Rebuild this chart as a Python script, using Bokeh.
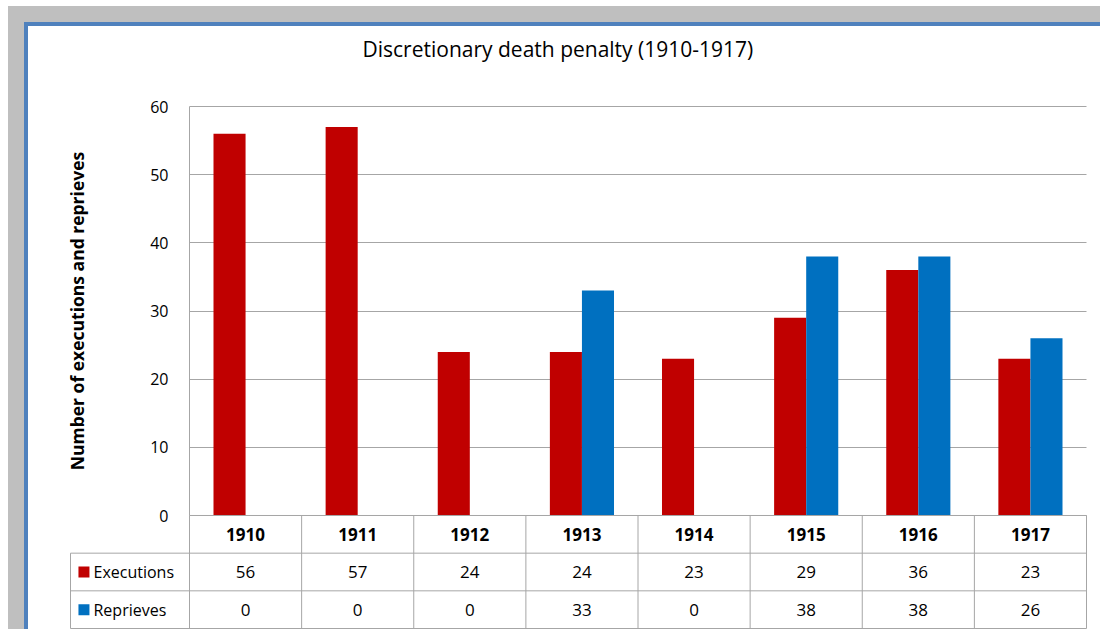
from bokeh.plotting import figure
from bokeh.models import ColumnDataSource, Range1d, FixedTicker, Grid
from bokeh.layouts import column
from bokeh.embed import file_html
from bokeh.resources import INLINE
from bokeh.core.properties import value

# ---- data ----
years = ["1910", "1911", "1912", "1913", "1914", "1915", "1916", "1917"]
executions = [56, 57, 24, 24, 23, 29, 36, 23]
reprieves = [0, 0, 0, 33, 0, 38, 38, 26]
series_names = ["Executions", "Reprieves"]
series_colors = ["#C00000", "#0070C0"]
y_ticks = [0, 10, 20, 30, 40, 50, 60]
title_text = "Discretionary death penalty (1910-1917)"
y_label = "Number of executions and reprieves"

FONT = "Open Sans"
LINE = "#A6A6A6"

n = len(years)
bw = 0.286                      # bar width, in category units
L = 119 / 112.125               # width of the table's label column, in category units
ex = 1 / 112.125                # one pixel of padding, in category units
y_max = y_ticks[-1]
px_per_unit = 409 / y_max       # vertical scale of the chart
top_px, below_px = 38, 114      # frame space above the top tick / below zero
frame_px = 561
row_px = 37.667

xc = [i + 0.5 for i in range(n)]
src = ColumnDataSource(dict(
    year=years, xc=xc,
    x_ex=[x - bw / 2 for x in xc], x_re=[x + bw / 2 for x in xc],
    executions=executions, reprieves=reprieves))

p = figure(x_range=Range1d(-L - ex, n + ex),
           y_range=Range1d(-below_px / px_per_unit, y_max + top_px / px_per_unit),
           width=1072, height=603, output_backend="svg", toolbar_location=None,
           min_border_left=41, min_border_right=13, min_border_top=42,
           min_border_bottom=0, x_axis_location=None, title=title_text)
t_start = -1 / row_px
p.extra_y_ranges = {"table": Range1d(t_start, t_start + frame_px / row_px)}

# bars
p.vbar(x="x_ex", top="executions", width=bw, source=src,
       fill_color=series_colors[0], line_color=None)
p.vbar(x="x_re", top="reprieves", width=bw, source=src,
       fill_color=series_colors[1], line_color=None)

# title
p.title.text_font = FONT
p.title.text_font_size = "21px"
p.title.text_font_style = "normal"
p.title.text_color = "#000000"
p.title.align = "left"
p.title.offset = 293
p.title.standoff = 12

# grid
p.xgrid.visible = False
p.outline_line_color = None
if "cross_bounds" in Grid.properties():
    p.ygrid.ticker = FixedTicker(ticks=y_ticks)
    p.ygrid.cross_bounds = (0, n)
    p.ygrid.grid_line_color = LINE
    p.ygrid.grid_line_width = 1
else:
    p.ygrid.visible = False
    p.segment(x0=[0] * len(y_ticks), y0=y_ticks, x1=[n] * len(y_ticks), y1=y_ticks,
              line_color=LINE, line_width=1, level="underlay")

# y axis at the left edge of the first category
ya = p.yaxis[0]
ya.fixed_location = 0
ya.bounds = (0, y_max)
ya.ticker = FixedTicker(ticks=y_ticks)
ya.axis_line_color = LINE
ya.major_tick_line_color = None
ya.minor_tick_line_color = None
ya.major_tick_out = 0
ya.major_tick_in = 0
ya.major_label_standoff = 21
ya.major_label_text_font = FONT
ya.major_label_text_font_size = "16px"
ya.major_label_text_color = "#000000"
ya.axis_label = y_label
ya.axis_label_text_font = FONT
ya.axis_label_text_font_size = "17.5px"
ya.axis_label_text_font_style = "bold"
ya.axis_label_text_color = "#000000"
ya.axis_label_standoff = 58

# ---- data table under the chart ----
p.segment(x0=[0, -L, -L, -L], y0=[3, 2, 1, 0], x1=[n] * 4, y1=[3, 2, 1, 0],
          line_color=LINE, line_width=1, y_range_name="table")
p.segment(x0=list(range(n + 1)) + [-L], y0=[0] * (n + 1) + [0],
          x1=list(range(n + 1)) + [-L], y1=[3] * (n + 1) + [2],
          line_color=LINE, line_width=1, y_range_name="table")

p.text(x=xc, y=[2.5] * n, text=years, text_align="center", text_baseline="middle",
       text_font=value(FONT), text_font_size="17px", text_font_style="bold",
       text_color="#000000", y_range_name="table")
p.text(x=xc, y=[1.5] * n, text=[str(v) for v in executions], text_align="center",
       text_baseline="middle", text_font=value(FONT), text_font_size="17px",
       text_color="#000000", y_range_name="table")
p.text(x=xc, y=[0.5] * n, text=[str(v) for v in reprieves], text_align="center",
       text_baseline="middle", text_font=value(FONT), text_font_size="17px",
       text_color="#000000", y_range_name="table")
p.scatter(x=[-L + 0.12] * 2, y=[1.5, 0.5], marker="square", size=11,
          fill_color=series_colors, line_color=None, y_range_name="table")
p.text(x=[-L + 0.205] * 2, y=[1.5, 0.5], text=series_names, text_align="left",
       text_baseline="middle", text_font=value(FONT), text_font_size="16px",
       text_color="#000000", y_range_name="table")

inner = column(p, spacing=0, styles={
    "border-left": "4px solid #4F81BD", "border-top": "4px solid #4F81BD",
    "background-color": "#FFFFFF"})
outer = column(inner, spacing=0, styles={
    "background-color": "#BFBFBF", "padding-left": "16px", "padding-top": "16px",
    "margin-left": "8px", "margin-top": "6px"})

open("out.html", "w").write(file_html(outer, INLINE))
